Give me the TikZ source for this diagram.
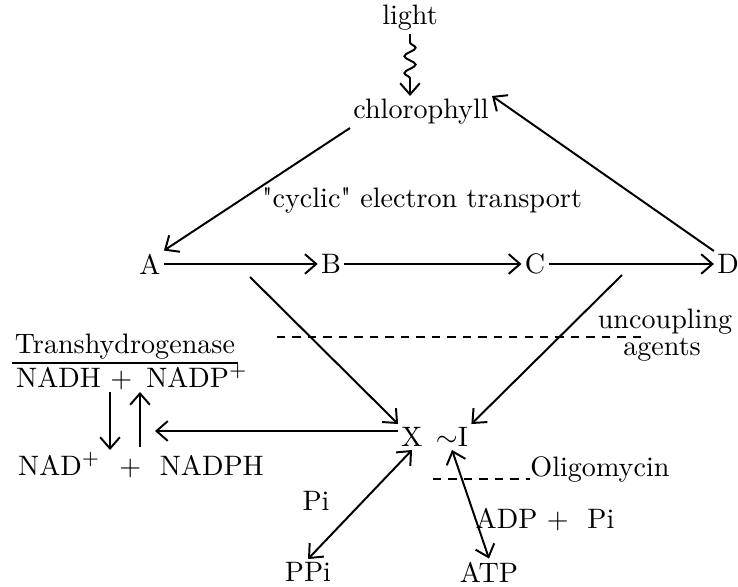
\documentclass[tikz,border=0pt]{standalone}
\usetikzlibrary{arrows.meta,decorations.pathmorphing}
\tikzset{
  flow/.style={->,line width=0.7pt},
  both/.style={<->,line width=0.7pt},
  cutline/.style={line width=0.7pt,dash pattern=on 3pt off 2.5pt},
}
\begin{document}
\begin{tikzpicture}[x=0.0125cm,y=-0.0125cm,>={Straight Barb[length=4pt,width=7pt]},inner sep=1pt]
\useasboundingbox (0,0) rectangle (738,587);
% light and the cycle
\node (light) at (410,18) {light};
\node (chl) at (421,112) {chlorophyll};
\node (cyc) at (422,200) {\textquotedbl cyclic\textquotedbl\ electron transport};
\node (A) at (150,264) {A};
\node (B) at (331,264) {B};
\node (C) at (535,264) {C};
\node (D) at (728,264) {D};
\draw[flow,decorate,decoration={snake,amplitude=2pt,segment length=6pt,pre length=3pt,post length=4pt}] (light) -- (light |- chl.north);
\draw[flow] (chl.south west) -- (A.north east);
\draw[flow] (D.north west) -- (chl.north east);
\draw[flow] (A) -- (B);
\draw[flow] (B) -- (C);
\draw[flow] (C) -- (D);
% coupling
\node (X) at (412,437) {X};
\node (I) at (452,437) {$\sim$I};
\coordinate (ab) at (250,277);
\coordinate (cd) at (622,275);
\draw[flow] (ab) -- (X.north west);
\draw[flow] (cd) -- (I.north east);
\draw[cutline] (277,337) -- (646,337);
\node (unc) at (665,322) {uncoupling};
\node (agt) at (662,350) {agents};
% transhydrogenase
\node (th) at (125,347) {Transhydrogenase};
\draw[line width=0.7pt] (th.south west) -- (th.south east);
\node (nadh) at (132,377) {NADH + \,NADP\textsuperscript{+}};
\node (nad) at (141,465) {NAD\textsuperscript{+} \ + \ NADPH};
\coordinate (dn1) at (110,392);
\coordinate (dn2) at (110,450);
\coordinate (up1) at (140,447);
\coordinate (up2) at (140,392);
\draw[flow] (dn1) -- (dn2);
\draw[flow] (up1) -- (up2);
\coordinate (tx) at (155,431);
\draw[flow] (X.west |- tx) -- (tx);
% phosphorylation
\node (pi) at (316,501) {Pi};
\node (ppi) at (308,572) {PPi};
\node (atp) at (489,572) {ATP};
\node (adp) at (545,520) {ADP + \ Pi};
\draw[both] (ppi.north) -- (X.south);
\draw[both] (atp.north) -- (I.south);
\draw[cutline] (433,479) -- (530,479);
\node[anchor=base west] (oli) at (527,476) {Oligomycin};
\end{tikzpicture}
\end{document}
